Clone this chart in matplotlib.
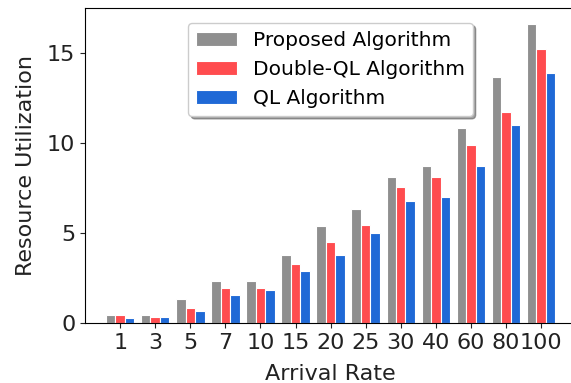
import matplotlib
matplotlib.use("Agg")
import matplotlib.pyplot as plt
import numpy as np

rates = ["1", "3", "5", "7", "10", "15", "20", "25", "30", "40", "60", "80", "100"]
proposed = [0.45, 0.45, 1.3, 2.35, 2.35, 3.8, 5.4, 6.35, 8.1, 8.7, 10.85, 13.65, 16.6]
double_ql = [0.45, 0.35, 0.8, 1.95, 1.95, 3.3, 4.5, 5.45, 7.55, 8.1, 9.9, 11.7, 15.2]
ql = [0.25, 0.35, 0.65, 1.55, 1.8, 2.9, 3.8, 5.0, 6.75, 7.0, 8.7, 11.0, 13.9]

fig = plt.figure(figsize=(5.71, 3.83), dpi=100)
ax = fig.add_axes([0.149, 0.157, 0.86, 0.822])

x = np.arange(len(rates))
w = 0.27
ax.bar(x - w, proposed, w, color="#8f8f8f", edgecolor="white", linewidth=0.8, label="Proposed Algorithm")
ax.bar(x, double_ql, w, color="#ff4c4f", edgecolor="white", linewidth=0.8, label="Double-QL Algorithm")
ax.bar(x + w, ql, w, color="#1f69d6", edgecolor="white", linewidth=0.8, label="QL Algorithm")

ax.set_xticks(x)
ax.set_xticklabels(rates)
ax.set_xlim(-1, 13)
ax.set_ylim(0, 17.5)
ax.set_yticks([0, 5, 10, 15])
ax.tick_params(labelsize=16, colors="#222222")
ax.set_xlabel("Arrival Rate", fontsize=16, color="#222222", labelpad=8)
ax.set_ylabel("Resource Utilization", fontsize=16, color="#222222", labelpad=8)
ax.spines["right"].set_visible(False)
ax.legend(loc="upper center", fontsize=14.5, shadow=True,
          bbox_to_anchor=(0.5, 0.985))

fig.savefig("out.png", dpi=100)
